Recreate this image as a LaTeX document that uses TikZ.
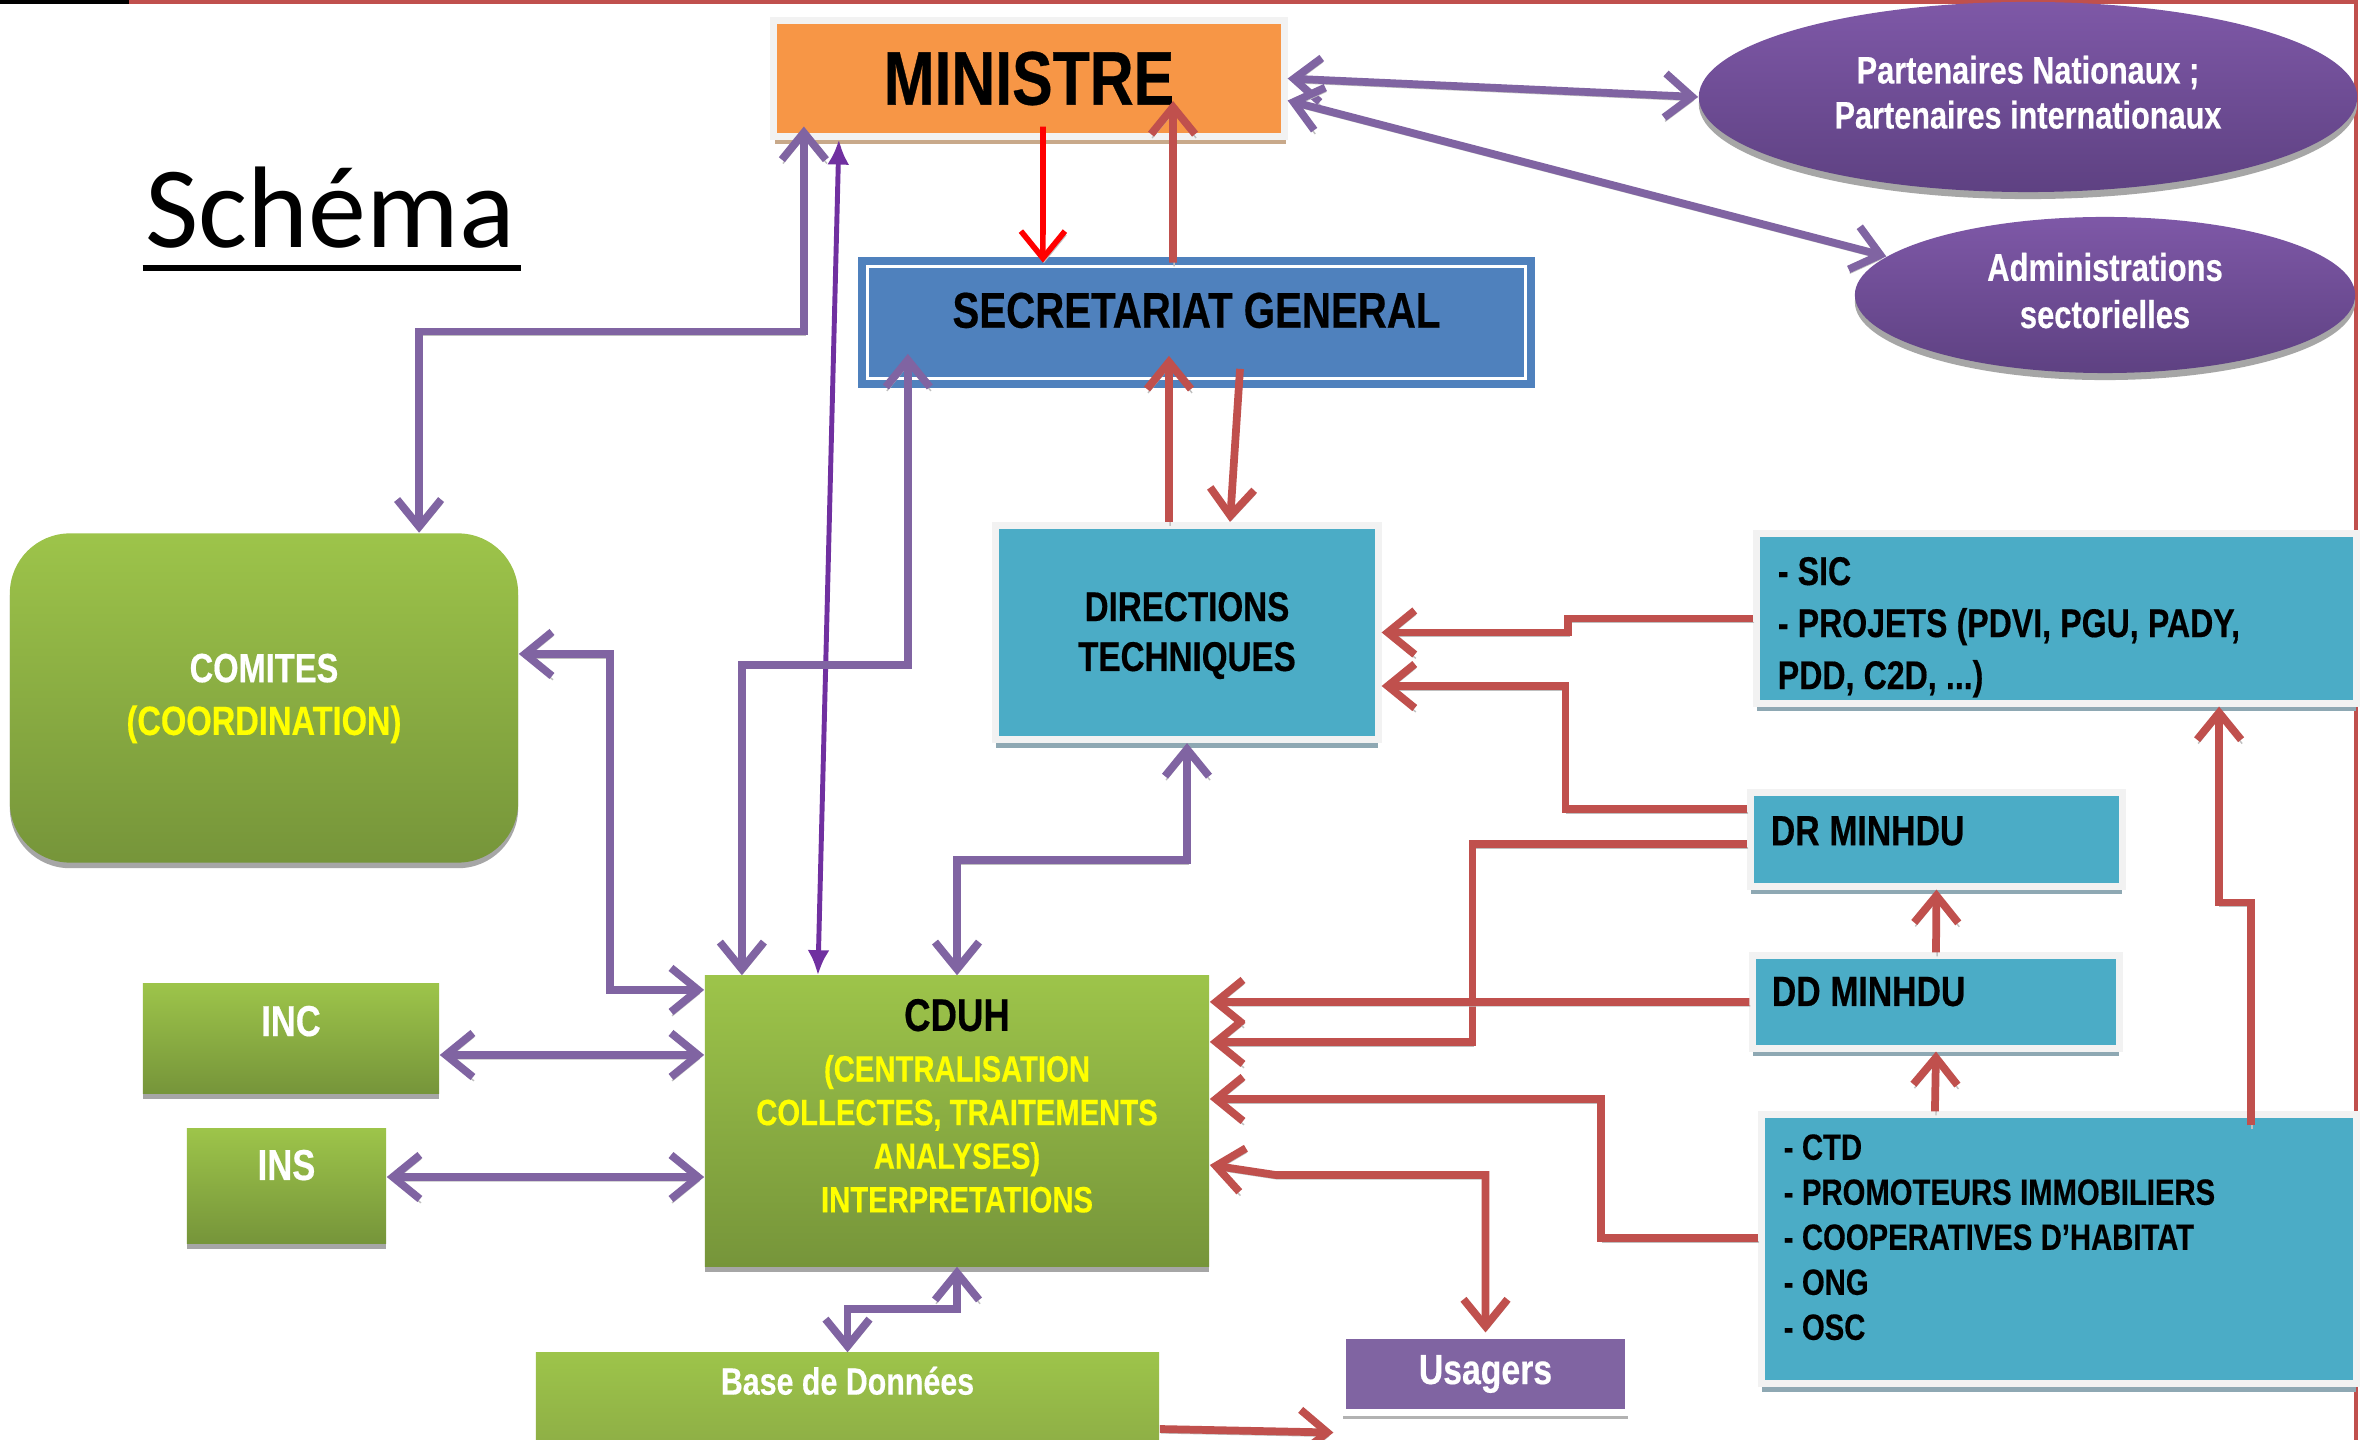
\documentclass[tikz,border=0pt]{standalone}
\usepackage{fontspec}
\setmainfont{Liberation Sans}[FakeStretch=0.8, BoldFeatures={FakeBold=0.4}]
\newfontfamily\schemafont{Carlito}
\usetikzlibrary{positioning,shapes.geometric,arrows.meta,shadows}

\begin{document}
\begin{tikzpicture}[x=0.01cm, y=-0.01cm, >={Straight Barb[length=0.27cm,width=0.44cm]}]
       \definecolor{orange}{HTML}{F79646}
       \definecolor{pale}{HTML}{F2F2F2}
       \definecolor{tan}{HTML}{C8A98A}
       \definecolor{blue}{HTML}{4F81BD}
       \definecolor{teal}{HTML}{4BACC6}
       \definecolor{bluegray}{HTML}{8EA8B3}
       \definecolor{lightgreen}{HTML}{9DC44A}
       \definecolor{midgreen}{HTML}{8FB046}
       \definecolor{darkgreen}{HTML}{76953A}
       \definecolor{purple}{HTML}{8064A2}
       \definecolor{purpletop}{HTML}{7E58A7}
       \definecolor{purplebottom}{HTML}{5E4182}
       \definecolor{darkpurple}{HTML}{7030A0}
       \definecolor{redline}{HTML}{C0504D}
       \definecolor{brightred}{HTML}{FF0000}
       \definecolor{yellow}{HTML}{FFFF00}
       \newcommand{\nodename}[1]{\begin{tabular}{c}#1\end{tabular}}
       \newcommand{\nodelist}[1]{\spaceskip=0.23em\relax #1}
       \tikzstyle{block}      = [rectangle, inner sep=0pt]
       \tikzstyle{tealblock}  = [block, fill=teal, draw=pale, line width=2pt, drop shadow={shadow xshift=0pt, shadow yshift=-2.4pt, fill=bluegray, opacity=1}]
       \tikzstyle{greenblock} = [block, top color=lightgreen, bottom color=darkgreen, text=white, drop shadow={shadow xshift=0pt, shadow yshift=-1.6pt, fill=black!35, opacity=1}]
       \tikzstyle{bubble}     = [ellipse, inner sep=0pt, top color=purpletop, bottom color=purplebottom, text=white, drop shadow={shadow xshift=0pt, shadow yshift=-2pt, fill=black!35, opacity=1}]
       \tikzstyle{linkshadow} = [preaction={draw=black!25, transform canvas={xshift=0.3pt, yshift=-1.1pt}}]
       \tikzstyle{purplelink} = [line width=2.2pt, draw=purple, linkshadow, <->]
       \tikzstyle{redlink}    = [line width=2.2pt, draw=redline, linkshadow, ->]
       \tikzstyle{darklink}   = [line width=1.4pt, draw=darkpurple, {Latex[length=0.25cm,width=0.22cm]}-{Latex[length=0.25cm,width=0.22cm]}]

       \useasboundingbox (0,0) rectangle (2374,1440);
       \fill [white] (0,0) rectangle (2374,1440);
       \draw [draw=redline, line width=1.2pt] (129,1.5) -- (2356,1.5) -- (2356,1440);
       \draw [black, line width=1.2pt] (0,1.5) -- (129,1.5);

       \node [anchor=base, inner sep=0pt, font=\schemafont\fontsize{33}{40}\selectfont] (schema) at (330,248) {Schéma};
       \draw [line width=1.7pt] ([xshift=-0.02cm,yshift=-0.18cm]schema.south west) -- ([xshift=0.06cm,yshift=-0.18cm]schema.south east);

       \node [block, fill=orange, draw=pale, line width=2pt, minimum width=5.1cm, minimum height=1.15cm, font=\bfseries\fontsize{21.6}{25}\selectfont, drop shadow={shadow xshift=0.4pt, shadow yshift=-2.2pt, fill=tan, opacity=1}] (ministre) at (1029,78.5) {MINISTRE};
       \node [block, fill=blue, draw=blue, line width=2.2pt, double=white, double distance=1pt, minimum width=6.58cm, minimum height=1.12cm, text depth=7pt, font=\bfseries\fontsize{14.3}{17}\selectfont] (sg) at (1196.5,322.5) {SECRETARIAT GENERAL};
       \node [bubble, minimum width=6.58cm, minimum height=1.9cm, font=\bfseries\fontsize{10.9}{12.8}\selectfont] (ptn) at (2028,97) {\nodename{Partenaires Nationaux ;\\Partenaires internationaux}};
       \node [bubble, minimum width=5cm, minimum height=1.56cm, font=\bfseries\fontsize{11}{13.4}\selectfont] (adm) at (2105,295) {\nodename{Administrations\\sectorielles}};
       \node [greenblock, rounded corners=0.6cm, minimum width=5.08cm, minimum height=3.29cm, font=\bfseries\fontsize{11.6}{15}\selectfont] (comites) at (264,698) {\nodename{COMITES\\\textcolor{yellow}{(COORDINATION)}}};
       \node [tealblock, minimum width=3.82cm, minimum height=2.14cm, font=\bfseries\fontsize{11.8}{14.2}\selectfont] (dt) at (1187,632.5) {\raisebox{-4pt}[0pt][0pt]{\nodename{DIRECTIONS\\TECHNIQUES}}};
       \node [tealblock, minimum height=1.69cm, text width=5.57cm, inner xsep=0.21cm, align=left, text depth=27pt, font=\bfseries\fontsize{11.4}{14.8}\selectfont] (sic) at (2056.5,618.5) {\nodelist{- SIC\\- PROJETS (PDVI, PGU, PADY,\\PDD, C2D, ...)}};
       \node [tealblock, minimum height=0.93cm, text width=3.31cm, inner xsep=0.2cm, align=left, text depth=5pt, font=\bfseries\fontsize{12}{14}\selectfont] (dr) at (1936.5,839.5) {\nodelist{DR MINHDU}};
       \node [tealblock, minimum height=0.92cm, text width=3.28cm, inner xsep=0.19cm, align=left, text depth=6pt, font=\bfseries\fontsize{12}{14}\selectfont] (dd) at (1936,1002) {\nodelist{DD MINHDU}};
       \node [tealblock, minimum height=2.68cm, text width=5.5cm, inner xsep=0.22cm, align=left, text depth=58pt, font=\bfseries\fontsize{10.4}{12.8}\selectfont] (ctd) at (2059,1249) {\nodelist{- CTD\\- PROMOTEURS IMMOBILIERS\\- COOPERATIVES D’HABITAT\\- ONG\\- OSC}};
       \node [greenblock, minimum width=5.04cm, minimum height=2.9cm, text=yellow, font=\bfseries\fontsize{10.4}{12.4}\selectfont] (cduh) at (957,1121) {\raisebox{0pt}[0pt][0pt]{\nodename{{\fontsize{13}{15}\selectfont\color{black}CDUH}\\[2pt](CENTRALISATION\\COLLECTES, TRAITEMENTS\\ANALYSES)\\INTERPRETATIONS}}};
       \node [greenblock, minimum width=2.96cm, minimum height=1.09cm, text depth=10pt, font=\bfseries\fontsize{12.3}{14}\selectfont] (inc) at (291,1038.5) {INC};
       \node [greenblock, minimum width=1.99cm, minimum height=1.14cm, text depth=12pt, font=\bfseries\fontsize{12.3}{14}\selectfont] (ins) at (286.5,1186) {INS};
       \node [greenblock, bottom color=midgreen, minimum width=6.23cm, minimum height=0.87cm, text depth=9pt, font=\bfseries\fontsize{10.8}{12.5}\selectfont] (base) at (847.5,1396.5) {Base de Données};
       \node [block, fill=purple, draw=white, line width=2pt, minimum width=2.85cm, minimum height=0.76cm, text=white, font=\bfseries\fontsize{12}{14}\selectfont, drop shadow={shadow xshift=0pt, shadow yshift=-2pt, fill=black!30, opacity=1}] (usagers) at (1485.5,1374) {Usagers};

       % liens du ministre
       \draw [redlink, draw=brightred, line width=1.6pt] ([xshift=0.14cm,yshift=0.13cm]ministre.south) -- ([xshift=-1.535cm]sg.north);
       \draw [redlink] ([xshift=-0.235cm]sg.north) -- ([xshift=1.44cm,yshift=0.385cm]ministre.south);
       \draw [purplelink] (ministre.east) -- (ptn.west);
       \draw [purplelink] ([yshift=-0.22cm]ministre.east) -- (adm.170);
       \draw [purplelink] ([xshift=-2.25cm,yshift=0.13cm]ministre.south) -- ++(0,205) -| ([xshift=1.55cm]comites.north);
       \draw [darklink] ([xshift=-1.9cm]ministre.south) -- ([xshift=-1.39cm]cduh.north);
       \draw [purplelink] ([xshift=-2.885cm,yshift=0.285cm]sg.south) -- ++(0,311) -| ([xshift=-2.15cm]cduh.north);
       \draw [redlink] ([xshift=-0.18cm]dt.north) -- ([xshift=-0.275cm,yshift=0.265cm]sg.south);
       \draw [redlink] ([xshift=0.435cm,yshift=0.135cm]sg.south) -- ([xshift=0.43cm]dt.north);

       % autour du CDUH
       \draw [purplelink] (dt.south) -- ++(0,117) -| (cduh.north);
       \draw [purplelink] ([yshift=0.44cm]comites.east) -- ++(91,0) |- ([yshift=1.31cm]cduh.west);
       \draw [purplelink] ([yshift=-0.165cm]inc.east) -- ([yshift=0.66cm]cduh.west);
       \draw [purplelink] ([yshift=0.09cm]ins.east) -- ([yshift=-0.56cm]cduh.west);
       \draw [purplelink] (cduh.south) -- ++(0,42) -| (base.north);

       % services deconcentres et partenaires
       \draw [redlink] (sic.west) -- ++(-185,0) |- (dt.east);
       \draw [redlink] ([yshift=0.305cm]dr.west) -- ++(-182,0) |- ([yshift=-0.535cm]dt.east);
       \draw [redlink] ([yshift=-0.045cm]dr.west) -- ++(-275,0) |- ([yshift=0.79cm]cduh.east);
       \draw [redlink] (dd.west) -- ([yshift=1.19cm]cduh.east);
       \draw [redlink] (dd.north) -- (dr.south);
       \draw [redlink] ([xshift=-1.24cm]ctd.north) -- (dd.south);
       \draw [redlink] ([xshift=1.92cm,yshift=-0.14cm]ctd.north) -- ++(0,-223) -| ([xshift=1.625cm]sic.south);
       \draw [redlink] ([yshift=0.11cm]ctd.west) -- ++(-157,0) |- ([yshift=0.22cm]cduh.east);
       \draw [redlink, <->] ([yshift=-0.44cm]cduh.east) -- ++(66,10) -| (usagers.north);
       \draw [redlink] ([yshift=-0.325cm]base.east) -- ([xshift=-0.06cm,yshift=-0.17cm]usagers.south west);
     \end{tikzpicture}
\end{document}
